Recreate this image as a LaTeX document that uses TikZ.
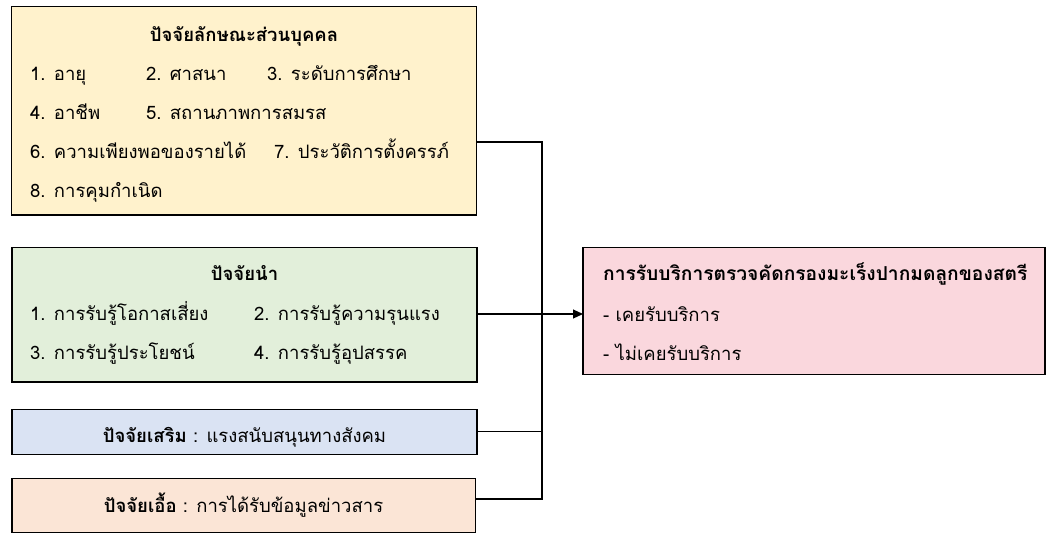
\documentclass[tikz,border=0pt]{standalone}
\usepackage{fontspec}
\setmainfont[Script=Thai]{Loma}
\usetikzlibrary{arrows.meta}
\definecolor{cyel}{HTML}{FFF2CC}
\definecolor{cgre}{HTML}{E2EFDA}
\definecolor{cblu}{HTML}{DAE3F3}
\definecolor{cora}{HTML}{FBE5D6}
\definecolor{cpnk}{HTML}{FAD7DD}
\tikzset{
  box/.style={draw=black, line width=1.1pt, inner sep=0pt, outer sep=0pt},
  txt/.style={anchor=base west, inner sep=0pt, font=\fontsize{18.5}{22}\selectfont},
  ttl/.style={anchor=base, inner sep=0pt, font=\fontsize{18.5}{22}\selectfont\bfseries},
  ctr/.style={anchor=base, inner sep=0pt, font=\fontsize{18.5}{22}\selectfont},
  conn/.style={draw=black, line width=1.1pt},
  arr/.style={conn, -{Triangle[length=10pt,width=9pt]}}
}
\begin{document}
\begin{tikzpicture}[x=1pt,y=-1pt]
\useasboundingbox (0,0) rectangle (1053,538);
% boxes
\node[box, fill=cyel, minimum width=465pt, minimum height=208.5pt] (yel) at (244,110.75) {};
\node[box, fill=cgre, minimum width=465pt, minimum height=134.3pt] (gre) at (244.5,314.85) {};
\node[box, fill=cblu, minimum width=465pt, minimum height=45pt] (blu) at (244.5,431.8) {};
\node[box, fill=cora, minimum width=463.5pt, minimum height=54pt] (ora) at (243.75,505.3) {};
\node[box, fill=cpnk, minimum width=462pt, minimum height=127pt] (pnk) at (814,310.8) {};
% yellow texts
\node[ttl] (yt) at (244,41) {ปัจจัยลักษณะส่วนบุคคล};
\node[txt] (y1) at (30,80) {1. อายุ};
\node[txt] (y2) at (146,80) {2. ศาสนา};
\node[txt] (y3) at (267,80) {3. ระดับการศึกษา};
\node[txt] (y4) at (30,119) {4. อาชีพ};
\node[txt] (y5) at (146,119) {5. สถานภาพการสมรส};
\node[txt] (y6) at (30,158) {6. ความเพียงพอของรายได้};
\node[txt] (y7) at (274,158) {7. ประวัติการตั้งครรภ์};
\node[txt] (y8) at (30,197) {8. การคุมกำเนิด};
% green texts
\node[ttl] (gt) at (244.5,280) {ปัจจัยนำ};
\node[txt] (g1) at (30,320) {1. การรับรู้โอกาสเสี่ยง};
\node[txt] (g2) at (254,320) {2. การรับรู้ความรุนแรง};
\node[txt] (g3) at (30,359) {3. การรับรู้ประโยชน์};
\node[txt] (g4) at (254,359) {4. การรับรู้อุปสรรค};
% blue / orange
\node[ctr] (bt) at (244.5,442) {\textbf{ปัจจัยเสริม} : แรงสนับสนุนทางสังคม};
\node[ctr] (ot) at (243.5,512) {\textbf{ปัจจัยเอื้อ} : การได้รับข้อมูลข่าวสาร};
% pink texts
\node[txt, font=\fontsize{19.2}{22}\selectfont\bfseries] (pt) at (603,280) {การรับบริการตรวจคัดกรองมะเร็งปากมดลูกของสตรี};
\node[txt] (p1) at (603,321) {- เคยรับบริการ};
\node[txt] (p2) at (603,360) {- ไม่เคยรับบริการ};
% connectors
\coordinate (jt) at (542,142);
\coordinate (ja) at (542,314);
\coordinate (jb) at (542,499);
\draw[conn] (yel.east |- jt) -- (jt) -- (jb) -- (ora.east |- jb);
\draw[conn] (blu.east) -- (blu.east -| jt);
\draw[arr] (gre.east |- ja) -- (pnk.west |- ja);
\end{tikzpicture}
\end{document}
